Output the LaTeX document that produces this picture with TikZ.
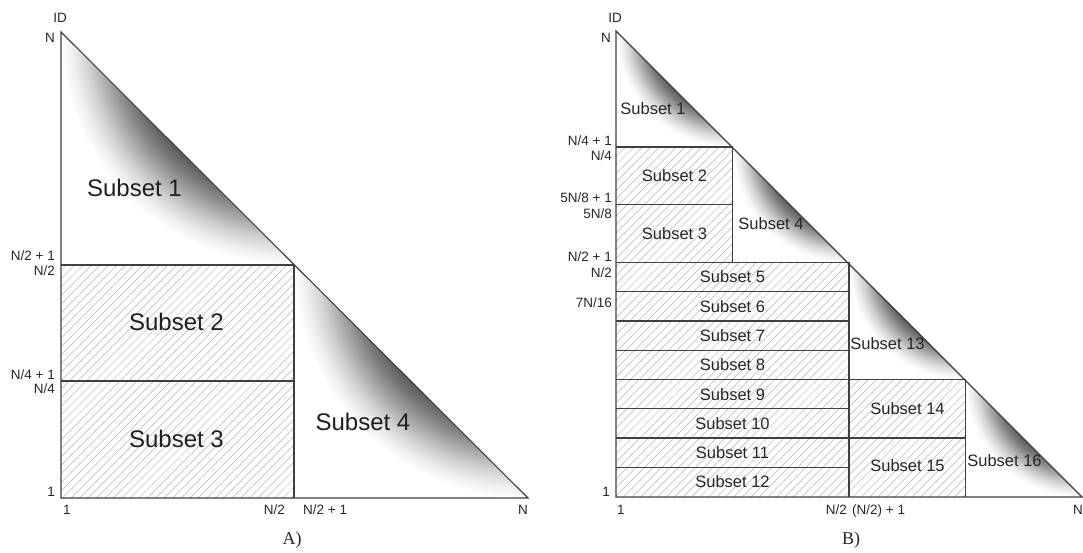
\documentclass[tikz,border=0pt]{standalone}
\usepackage{fontspec}
\setmainfont{Liberation Sans}
\newfontfamily\capfont{Liberation Serif}
\usetikzlibrary{patterns.meta}

\pgfdeclareradialshading{trishade}{\pgfpointorigin}{color(0bp)=(black!64); color(17.4bp)=(black!64); color(18.8bp)=(black!52); color(20.4bp)=(black!36); color(22.2bp)=(black!18); color(23.8bp)=(black!6); color(25bp)=(white); color(50bp)=(white)}

\newcommand{\shadedtri}[3]{% corner x, corner y, side
  \begin{scope}
    \clip (#1,#2-#3) -- (#1,#2) -- (#1+#3,#2) -- cycle;
    \shade[shading=trishade] ({#1+0.9832*#3},{#2-0.9832*#3}) circle ({0.9833*#3});
  \end{scope}}

\begin{document}
\begin{tikzpicture}[x=1pt,y=-1pt,
  edge/.style={draw=black!75, line width=1.1pt, line join=miter},
  hatch/.style={pattern={Lines[angle=45,distance=6pt,line width=0.5pt]}, pattern color=black!30},
  ax/.style={font=\fontsize{13.5}{14}\selectfont, text=black!85, inner sep=0pt},
  bigsub/.style={font=\fontsize{24}{26}\selectfont, text=black!88, inner sep=0pt},
  smallsub/.style={font=\fontsize{16.5}{18}\selectfont, text=black!85, inner sep=0pt},
  captext/.style={font=\capfont\fontsize{18}{20}\selectfont, text=black!85, inner sep=0pt}]

\useasboundingbox (0,0) rectangle (1083,552);

% ================= Panel A =================
\coordinate (At) at (61,32);
\coordinate (Ao) at (61,498);
\coordinate (Ar) at (528,498);
\coordinate (Am) at (294,265);
\coordinate (Aml) at (61,265);
\coordinate (Amb) at (294,498);
\coordinate (Aql) at (61,381);
\coordinate (Aqr) at (294,381);

\fill[hatch] (Aml) rectangle (Amb);
\shadedtri{61}{265}{233}
\shadedtri{294}{498}{234}

\draw[edge] (At) -- (Ao) -- (Ar) -- cycle;
\draw[edge] (Aml) -- (Am) -- (Amb);
\draw[edge] (Aql) -- (Aqr);

\node[bigsub] (a1) at (134.5,188) {Subset 1};
\node[bigsub] (a2) at (176.5,322) {Subset 2};
\node[bigsub] (a3) at (176.5,439) {Subset 3};
\node[bigsub] (a4) at (363,422) {Subset 4};

\node[ax, anchor=base] (aid) at (60,22) {ID};
\node[ax, anchor=base east] (ayN) at (55,42) {N};
\node[ax, anchor=base east] (ay1) at (55,260) {N/2 + 1};
\node[ax, anchor=base east] (ay2) at (55,275) {N/2};
\node[ax, anchor=base east] (ay3) at (55,379) {N/4 + 1};
\node[ax, anchor=base east] (ay4) at (55,393) {N/4};
\node[ax, anchor=base east] (ay5) at (55,496) {1};
\node[ax, anchor=base west] (ax1) at (63,514) {1};
\node[ax, anchor=base east] (ax2) at (285,514) {N/2};
\node[ax, anchor=base west] (ax3) at (303,514) {N/2 + 1};
\node[ax, anchor=base] (ax4) at (523,514) {N};
\node[captext] (capA) at (292,540) {A)};

% ================= Panel B =================
\coordinate (Bt) at (616,31);
\coordinate (Bo) at (616,497);
\coordinate (Br) at (1082,497);

\fill[hatch] (616,147) rectangle (732.5,262.5);
\fill[hatch] (616,262.5) rectangle (849,497);
\fill[hatch] (849,379.5) rectangle (965.5,497);

\shadedtri{616}{147}{116}
\shadedtri{732.5}{262.5}{115.5}
\shadedtri{849}{379.5}{116.5}
\shadedtri{965.5}{497}{116.5}

\draw[edge] (Bt) -- (Bo) -- (Br) -- cycle;
\draw[edge] (616,147) -- (732.5,147) -- (732.5,262.5);
\draw[edge] (616,204.75) -- (732.5,204.75);
\draw[edge] (616,262.5) -- (849,262.5) -- (849,497);
\foreach \yy in {291.75,321,350.25,379.5,408.75,438,467.25}
  \draw[edge] (616,\yy) -- (849,\yy);
\draw[edge] (849,379.5) -- (965.5,379.5) -- (965.5,497);
\draw[edge] (849,438) -- (965.5,438);

\node[smallsub] (b1) at (653,109) {Subset 1};
\node[smallsub] (b2) at (674.5,175.5) {Subset 2};
\node[smallsub] (b3) at (674.5,233.5) {Subset 3};
\node[smallsub] (b4) at (771,223.5) {Subset 4};
\node[smallsub] (b5) at (732.5,277) {Subset 5};
\node[smallsub] (b6) at (732.5,306.4) {Subset 6};
\node[smallsub] (b7) at (732.5,335.6) {Subset 7};
\node[smallsub] (b8) at (732.5,364.9) {Subset 8};
\node[smallsub] (b9) at (732.5,394.1) {Subset 9};
\node[smallsub] (b10) at (732.5,423.4) {Subset 10};
\node[smallsub] (b11) at (732.5,452.6) {Subset 11};
\node[smallsub] (b12) at (732.5,481.9) {Subset 12};
\node[smallsub] (b13) at (887.5,343.5) {Subset 13};
\node[smallsub] (b14) at (907.5,408.5) {Subset 14};
\node[smallsub] (b15) at (907.5,465.5) {Subset 15};
\node[smallsub] (b16) at (1004.5,460.5) {Subset 16};

\node[ax, anchor=base] (bid) at (615,22) {ID};
\node[ax, anchor=base east] (byN) at (611,42) {N};
\node[ax, anchor=base east] (by1) at (612,145) {N/4 + 1};
\node[ax, anchor=base east] (by2) at (612,160) {N/4};
\node[ax, anchor=base east] (by3) at (612,202) {5N/8 + 1};
\node[ax, anchor=base east] (by4) at (612,218) {5N/8};
\node[ax, anchor=base east] (by5) at (612,261) {N/2 + 1};
\node[ax, anchor=base east] (by6) at (612,277) {N/2};
\node[ax, anchor=base east] (by7) at (612,307) {7N/16};
\node[ax, anchor=base east] (by8) at (610,496) {1};
\node[ax, anchor=base west] (bx1) at (617,514) {1};
\node[ax, anchor=base east] (bx2) at (847,514) {N/2};
\node[ax, anchor=base west] (bx3) at (852,514) {(N/2) + 1};
\node[ax, anchor=base east] (bx4) at (1083,514) {N};
\node[captext] (capB) at (851,540) {B)};
\end{tikzpicture}
\end{document}
